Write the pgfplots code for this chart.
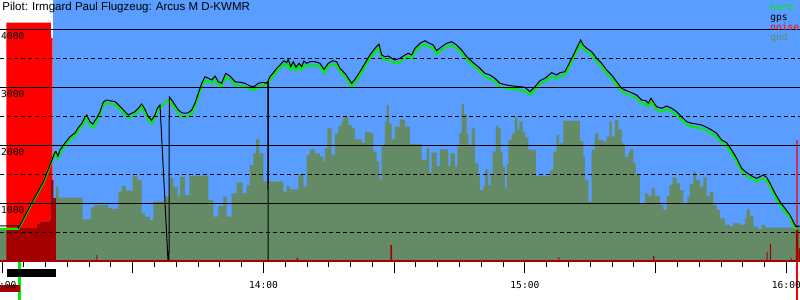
\documentclass[border=0pt]{standalone}
\usepackage{fontspec}
\setmainfont{Liberation Sans}
\newfontfamily\monofont{DejaVu Sans Mono}
\usepackage{pgfplots}
\pgfplotsset{compat=1.18}
\definecolor{sky}{RGB}{88,157,255}
\definecolor{gndcol}{RGB}{101,139,102}
\definecolor{barocol}{RGB}{0,238,0}
\definecolor{noisecol}{RGB}{255,0,0}
\definecolor{dred}{RGB}{165,0,0}
\begin{document}
\begin{tikzpicture}
\begin{axis}[
  at={(0,0)}, anchor=south west,
  width=400pt, height=130.65pt, scale only axis,
  xmin=-0.46, xmax=183.13, ymin=0, ymax=4505,
  clip=false, axis on top,
  axis x line*=bottom, axis y line*=left,
  x axis line style={draw=dred, line width=0.8pt, -},
  y axis line style={draw=none, -},
  xtick={0,30,...,180}, xticklabels={13:00,,14:00,,15:00,,16:00},
  minor x tick num=5,
  tick align=outside,
  major tick length=6pt, minor tick length=3pt,
  x tick style={black, line width=0.5pt},
  ytick={1000,2000,3000,4000}, yticklabels={1000,2000,3000,4000},
  y tick style={draw=none},
  ymajorgrids, major grid style={black, line width=0.5pt},
  extra y ticks={500,1500,2500,3500}, extra y tick labels={},
  extra y tick style={grid=major, major tick length=0pt, major grid style={black, line width=0.5pt, dash pattern=on 2pt off 1.5pt}},
  tick label style={font=\monofont\fontsize{4.8}{5}\selectfont, inner sep=0pt},
  yticklabel style={anchor=north west, xshift=6.4pt, yshift=-1.2pt},
  xticklabel style={anchor=north, yshift=-4pt},
  legend image code/.code={},
  legend style={at={(rel axis cs:0.9625,0.99)}, anchor=north west, draw=none, fill=none,
    inner xsep=0pt, inner ysep=0pt,
    font=\monofont\fontsize{4.8}{5}\selectfont, row sep=0pt, column sep=0pt,
    nodes={inner sep=0pt, text height=3.5pt, text depth=1.5pt, anchor=west}},
  legend cell align=left,
]
% sky background
\fill[sky] (axis cs:11.63,0) rectangle (axis cs:183.13,4505);
% noise (engine noise level)
\addplot[const plot, fill=noisecol, draw=none, forget plot] coordinates {
(1.0,4113)(11.24,3850)(11.63,0)(182.3,2090)(182.6,0)(183.13,0)} \closedcycle;
% ground
\addplot[const plot, fill=gndcol, draw=none, forget plot] coordinates {
(-0.46,574) (7.96,655) (8.72,683) (11.01,712) (11.18,1402) (11.77,1091) (12.39,1286) (12.92,1096)
(18.52,724) (20.42,931) (21.18,971) (24.39,919) (25.17,902) (26.69,1195) (27.47,1298) (28.45,1217)
(29.99,1471) (31.05,1402) (32.06,833) (32.81,769) (33.96,712) (34.72,1028) (37.40,1114) (38.55,1436)
(39.31,1281) (40.32,1114) (40.85,1453) (41.99,1143) (42.98,1471) (47.34,1057) (48.49,769) (49.63,953)
(50.78,1114) (51.56,769) (52.71,1172) (53.86,1355) (55.23,1172) (56.15,1315) (56.91,1660) (57.67,1862)
(58.29,2103) (59.04,1862) (59.96,1372) (64.55,1200) (65.33,1298) (66.09,1241) (67.99,1505) (69.14,1286)
(69.92,1833) (70.68,1931) (71.82,1862) (72.97,1803) (73.73,1717) (74.12,1948) (74.65,2293) (75.66,1833)
(76.41,2207) (77.17,2333) (77.95,2407) (78.32,2493) (79.47,2350) (80.25,2293) (81.00,2103) (82.54,2045)
(83.30,2234) (84.28,2217) (85.20,1890) (85.98,1717) (86.58,1414) (87.13,2005) (87.89,2407) (88.28,2695)
(88.81,2379) (89.43,2103) (90.18,2321) (91.33,2448) (92.48,2321) (93.62,2022) (96.31,1746) (97.45,1948)
(98.05,1527) (98.60,1872) (99.75,1643) (100.51,1931) (102.41,1643) (102.96,1862) (103.95,1631) (104.48,1976)
(104.94,2207) (105.49,2712) (106.01,2539) (106.64,2207) (107.00,1976) (107.78,2293) (108.54,1690) (109.30,1459)
(109.69,1229) (110.45,1286) (110.83,1586) (111.59,1315) (112.14,1517) (112.60,1890) (113.36,2333) (113.89,2293)
(114.44,1890) (114.90,1631) (115.42,1259) (115.81,1677) (116.18,2091) (116.96,2207) (117.72,2493) (118.25,2264)
(118.71,2407) (119.49,2234) (120.01,2138) (120.77,1919) (122.54,1471) (125.75,1574) (126.51,1890) (127.29,2177)
(127.88,2034) (128.80,2419) (132.64,2074) (133.39,1803) (133.78,1402) (134.54,1028) (135.32,1919) (136.08,2207)
(136.84,2091) (137.98,2062) (138.76,2148) (139.36,2407) (139.91,2148) (140.67,2436) (141.43,2276) (142.20,2034)
(142.96,1803) (143.72,1872) (144.11,1931) (144.87,1690) (145.49,1488) (146.41,1000) (147.56,1172) (148.31,1126)
(149.09,1259) (149.85,1126) (150.99,970) (151.75,884) (152.53,1126) (153.13,1315) (153.91,1448) (154.82,1345)
(155.58,1229) (156.34,1000) (157.26,1114) (157.88,1333) (158.64,1545) (159.25,1402) (160.17,1286) (160.93,1448)
(161.71,1126) (162.47,1200) (163.23,970) (164.00,884) (164.76,741) (165.91,626) (167.06,597) (167.81,655)
(169.35,626) (170.50,741) (170.89,896) (171.65,781) (172.41,597) (173.56,552) (174.34,626) (175.10,579)
(183.13,579)} \closedcycle;
% noise below ground level
\addplot[const plot, fill=dred, draw=none, forget plot] coordinates {
(1.0,574)(7.96,655)(8.72,683)(11.01,712)(11.18,1402)(11.77,1091)(12.39,0)
(21.64,109)(21.89,0)(67.62,57)(67.87,0)(89.1,281)(89.5,0)(127.66,74)(127.9,0)
(149.45,91)(149.7,0)(161.55,31)(161.8,0)(175.48,166)(175.7,0)(176.24,298)(176.5,0)
(180.98,57)(181.2,0)(182.2,540)(182.75,0)(182.89,224)(183.13,224)} \closedcycle;
% baro
\addplot[barocol, line width=1pt, forget plot] coordinates {
(-0.46,557) (3.67,557) (3.79,560) (6.82,990) (9.48,1350) (12.16,1870) (12.39,1860) (12.85,1770) (13.31,1870)
(14.46,1990) (15.60,2100) (16.75,2160) (17.44,2250) (18.36,2330) (19.05,2440) (19.44,2470) (20.19,2350)
(20.81,2300) (21.73,2410) (22.49,2530) (23.25,2690) (24.03,2730) (24.78,2720) (25.93,2700) (26.32,2680)
(27.47,2590) (28.22,2530) (28.98,2470) (29.76,2500) (30.52,2530) (31.28,2590) (32.06,2660) (32.81,2560)
(33.57,2430) (34.35,2380) (35.11,2470) (35.64,2590) (36.26,2650) (37.5,2740) (38.39,2790) (38.94,2730)
(39.70,2640) (40.46,2550) (41.24,2500) (41.99,2490) (42.75,2500) (43.53,2550) (44.29,2670) (45.05,2840)
(45.83,3010) (46.58,3120) (47.34,3100) (48.12,3070) (48.88,3140) (49.63,3040) (50.41,3010) (51.33,3180)
(52.32,3140) (53.47,3040) (54.61,3030) (55.76,3010) (56.91,2970) (57.83,2950) (58.81,3010) (59.96,3030)
(61.0,3050) (61.50,3120) (62.26,3190) (63.04,3270) (63.79,3330) (64.71,3400) (65.33,3370) (65.70,3420)
(66.25,3300) (66.84,3380) (67.46,3290) (68.22,3360) (68.77,3300) (69.30,3390) (69.92,3360) (70.68,3380)
(71.82,3380) (72.97,3360) (73.89,3250) (74.88,3360) (75.89,3400) (76.80,3380) (77.56,3270) (78.71,3180)
(79.47,3100) (80.25,3010) (81.00,3080) (82.15,3210) (83.30,3360) (84.45,3500) (85.59,3610) (86.51,3690)
(87.13,3500) (87.89,3470) (88.65,3480) (89.43,3440) (90.18,3410) (91.33,3440) (92.48,3500) (93.23,3530)
(94.01,3500) (94.77,3610) (95.92,3700) (97.07,3740) (97.82,3710) (98.97,3670) (99.75,3570) (100.90,3640)
(102.05,3700) (103.19,3730) (104.34,3670) (105.49,3590) (106.64,3470) (108.15,3370) (109.69,3270) (110.83,3180)
(111.98,3150) (113.13,3100) (114.28,3010) (115.82,2980) (117.33,2970) (118.86,2950) (120.01,2940) (121.16,2870)
(122.31,2950) (123.46,3060) (124.60,3100) (126.14,3190) (127.29,3150) (128.04,3190) (129.19,3210) (130.34,3380)
(131.49,3560) (132.24,3670) (132.79,3760) (133.39,3670) (134.17,3610) (135.32,3560) (136.47,3440) (137.61,3360)
(138.76,3240) (139.91,3150) (141.06,3040) (142.20,2930) (143.35,2880) (144.50,2850) (145.65,2810) (146.79,2720)
(147.78,2710) (148.31,2670) (148.93,2750) (149.45,2700) (150.23,2610) (151.38,2580) (152.53,2620) (153.68,2580)
(154.82,2520) (155.97,2440) (157.12,2350) (158.27,2320) (159.41,2310) (160.56,2290) (161.71,2250) (162.86,2210)
(164.00,2150) (165.15,2040) (166.30,1990) (167.45,1860) (168.59,1720) (169.74,1550) (170.89,1470) (172.04,1420)
(173.18,1380) (173.94,1410) (174.70,1430) (175.48,1390) (176.24,1290) (177.39,1120) (178.53,970) (179.68,860)
(180.83,750) (181.59,630) (182.21,550)};
% gps
\addplot[black, line width=0.5pt, forget plot] coordinates {
(-0.46,609) (3.67,609) (3.79,574) (6.82,1005) (9.48,1367) (12.16,1884) (12.39,1890) (12.85,1815) (13.31,1919)
(14.46,2040) (15.60,2148) (16.75,2212) (17.44,2298) (18.36,2384) (19.05,2488) (19.44,2522) (20.19,2407)
(20.81,2367) (21.73,2470) (22.49,2579) (23.25,2746) (24.03,2781) (24.78,2769) (25.93,2752) (26.32,2729)
(27.47,2643) (28.22,2579) (28.98,2522) (29.76,2552) (30.52,2579) (31.28,2638) (32.06,2712) (32.81,2620)
(33.57,2493) (34.35,2436) (35.11,2522) (35.64,2638) (36.26,2695) (38.09,20) (38.32,20) (38.39,2833)
(38.94,2781) (39.70,2695) (40.46,2608) (41.24,2562) (41.99,2552) (42.75,2562) (43.53,2608) (44.29,2724)
(45.05,2896) (45.83,3069) (46.58,3183) (47.34,3155) (48.12,3126) (48.88,3195) (49.63,3096) (50.41,3069)
(51.33,3241) (52.32,3195) (53.47,3096) (54.61,3086) (55.76,3069) (56.91,3022) (57.83,3010) (58.81,3069)
(59.96,3086) (60.6,3069) (61.0,3100) (61.07,20) (61.14,3126) (61.50,3183) (62.26,3251) (63.04,3327)
(63.79,3384) (64.71,3458) (65.33,3424) (65.70,3482) (66.25,3355) (66.84,3441) (67.46,3345) (68.22,3414)
(68.77,3355) (69.30,3453) (69.92,3414) (70.68,3441) (71.82,3441) (72.97,3414) (73.89,3310) (74.88,3414)
(75.89,3458) (76.80,3441) (77.56,3327) (78.71,3241) (79.47,3155) (80.25,3069) (81.00,3138) (82.15,3269)
(83.30,3414) (84.45,3557) (85.59,3672) (86.51,3746) (87.13,3557) (87.89,3527) (88.65,3539) (89.43,3500)
(90.18,3470) (91.33,3500) (92.48,3557) (93.23,3586) (94.01,3557) (94.77,3672) (95.92,3758) (97.07,3803)
(97.82,3769) (98.97,3729) (99.75,3631) (100.90,3700) (102.05,3758) (103.19,3786) (104.34,3729) (105.49,3643)
(106.64,3527) (108.15,3424) (109.69,3327) (110.83,3241) (111.98,3212) (113.13,3155) (114.28,3069) (115.82,3039)
(117.33,3022) (118.86,3010) (120.01,3000) (121.16,2924) (122.31,3010) (123.46,3114) (124.60,3155) (126.14,3251)
(127.29,3212) (128.04,3251) (129.19,3269) (130.34,3441) (131.49,3614) (132.24,3729) (132.79,3815) (133.39,3729)
(134.17,3672) (135.32,3614) (136.47,3500) (137.61,3414) (138.76,3298) (139.91,3212) (141.06,3096) (142.20,2983)
(143.35,2941) (144.50,2907) (145.65,2867) (146.79,2781) (147.78,2769) (148.31,2724) (148.93,2810) (149.45,2752)
(150.23,2665) (151.38,2638) (152.53,2677) (153.68,2638) (154.82,2579) (155.97,2493) (157.12,2407) (158.27,2379)
(159.41,2367) (160.56,2350) (161.71,2310) (162.86,2264) (164.00,2207) (165.15,2091) (166.30,2045) (167.45,1919)
(168.59,1776) (169.74,1603) (170.89,1527) (172.04,1471) (173.18,1431) (173.94,1459) (174.70,1488) (175.48,1448)
(176.24,1345) (177.39,1172) (178.53,1028) (179.68,914) (180.83,798) (181.59,683) (182.21,597) (183.13,609)};
% markers below the time axis
\fill[barocol] (axis cs:3.74,0) rectangle (axis cs:4.36,-667);
\fill[black] (axis cs:1.08,-138) rectangle (axis cs:12.39,-265);
\fill[dred] (axis cs:-0.46,-409) rectangle (axis cs:4.13,-529);
\fill[noisecol] (axis cs:182.3,0) rectangle (axis cs:182.6,-667);
% title
\node[anchor=base west, inner sep=0pt, font=\fontsize{5.75}{6}\selectfont, xshift=1pt, yshift=-5pt]
  at (rel axis cs:0,1) {Pilot: Irmgard Paul Flugzeug: Arcus M D-KWMR};
% legend
\addlegendimage{empty legend}\addlegendentry{\textcolor{barocol}{baro}}
\addlegendimage{empty legend}\addlegendentry{gps}
\addlegendimage{empty legend}\addlegendentry{\textcolor{noisecol}{noise}}
\addlegendimage{empty legend}\addlegendentry{\textcolor{gndcol}{gnd}}
\end{axis}
\pgfresetboundingbox
\useasboundingbox (0,-19.35pt) rectangle (400pt,130.65pt);
\end{tikzpicture}
\end{document}
